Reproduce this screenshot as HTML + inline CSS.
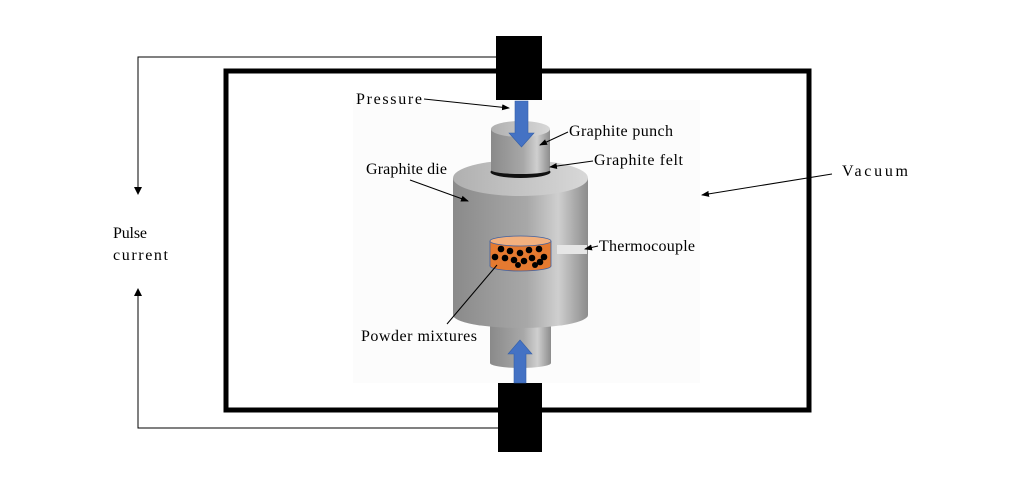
<!DOCTYPE html>
<html><head><style>
html,body{margin:0;padding:0;background:#fff;}
svg{display:block;}
text{font-family:"Liberation Serif",serif;font-size:16px;fill:#000;}
</style></head><body>
<svg width="1035" height="485" viewBox="0 0 1035 485" xmlns="http://www.w3.org/2000/svg">
<defs>
<linearGradient id="g" x1="0" x2="1" y1="0" y2="0">
<stop offset="0" stop-color="#8a8a8a"/>
<stop offset="0.55" stop-color="#a8a8a8"/>
<stop offset="0.78" stop-color="#cfcfcf"/>
<stop offset="1" stop-color="#8c8c8c"/>
</linearGradient>
<linearGradient id="gt" x1="0" x2="1" y1="0" y2="0">
<stop offset="0" stop-color="#b0b0b0"/>
<stop offset="1" stop-color="#d8d8d8"/>
</linearGradient>
<marker id="a" markerWidth="8" markerHeight="8" refX="7" refY="4" orient="auto" markerUnits="userSpaceOnUse">
<path d="M0,1 L8,4 L0,7 Z" fill="#000"/>
</marker>
</defs>
<rect x="353" y="100" width="347" height="283" fill="#fcfcfc"/>
<polyline points="496,57 138,57 138,193" fill="none" stroke="#000" stroke-width="1"/>
<path d="M134,187 L138,195 L142,187 Z" fill="#000"/>
<polyline points="498,428 138,428 138,290" fill="none" stroke="#000" stroke-width="1"/>
<path d="M134,296 L138,288 L142,296 Z" fill="#000"/>
<rect x="226" y="71" width="583" height="339" fill="none" stroke="#000" stroke-width="5"/>
<rect x="496" y="36" width="46" height="64" fill="#000"/>
<rect x="498" y="383" width="44" height="69" fill="#000"/>
<rect x="490" y="318" width="61" height="45" fill="url(#g)"/>
<ellipse cx="520.5" cy="363" rx="30.5" ry="5" fill="url(#g)"/>
<rect x="453" y="178" width="135" height="137" fill="url(#g)"/>
<ellipse cx="520.5" cy="315" rx="67.5" ry="13" fill="url(#g)"/>
<ellipse cx="520.5" cy="178" rx="67.5" ry="18" fill="url(#gt)"/>
<ellipse cx="520.5" cy="172" rx="30" ry="6" fill="#111"/>
<rect x="491" y="129" width="59" height="41" fill="url(#g)"/>
<ellipse cx="520.5" cy="170" rx="29.5" ry="4" fill="url(#g)"/>
<ellipse cx="520.5" cy="129" rx="29.5" ry="8" fill="url(#gt)"/>
<ellipse cx="520.5" cy="266" rx="30.5" ry="5" fill="#e57a30" stroke="#4060a0" stroke-width="0.8"/>
<rect x="490" y="241" width="61" height="25" fill="#e57a30"/>
<line x1="490" y1="241" x2="490" y2="266" stroke="#4060a0" stroke-width="0.8"/>
<line x1="551" y1="241" x2="551" y2="266" stroke="#4060a0" stroke-width="0.8"/>
<ellipse cx="520.5" cy="241" rx="30.5" ry="5" fill="#f2b07e" stroke="#4060a0" stroke-width="0.8"/>
<g fill="#000">
<circle cx="501" cy="249" r="3.3"/><circle cx="510" cy="251" r="3.3"/><circle cx="520" cy="253" r="3.3"/>
<circle cx="529" cy="250" r="3.3"/><circle cx="539" cy="249" r="3.3"/><circle cx="495" cy="257" r="3.3"/>
<circle cx="505" cy="258" r="3.3"/><circle cx="514" cy="260" r="3.3"/><circle cx="524" cy="261" r="3.3"/>
<circle cx="532" cy="258" r="3.3"/><circle cx="544" cy="257" r="3.3"/><circle cx="540" cy="262" r="3.3"/>
<circle cx="535" cy="265" r="3"/><circle cx="518" cy="265" r="3"/>
</g>
<rect x="557" y="245" width="30" height="9" fill="#e6e6e6"/>
<path d="M515,101 H528 V133 H534 L521.5,147 L509,133 H515 Z" fill="#4472c4" stroke="#3560a8" stroke-width="0.6"/>
<path d="M514,383 H526 V354 H532 L520,340 L508,354 H514 Z" fill="#4472c4" stroke="#3560a8" stroke-width="0.6"/>
<text x="356" y="104" textLength="66" lengthAdjust="spacing">Pressure</text>
<line x1="424" y1="99" x2="509" y2="108" stroke="#000" marker-end="url(#a)"/>
<text x="569" y="136" textLength="104" lengthAdjust="spacing">Graphite punch</text>
<line x1="568" y1="132" x2="540" y2="145" stroke="#000" marker-end="url(#a)"/>
<text x="594" y="165" textLength="89" lengthAdjust="spacing">Graphite felt</text>
<line x1="593" y1="161" x2="550" y2="167" stroke="#000" marker-end="url(#a)"/>
<text x="366" y="174" textLength="81" lengthAdjust="spacing">Graphite die</text>
<line x1="410" y1="180" x2="468" y2="201" stroke="#000" marker-end="url(#a)"/>
<text x="599" y="251" textLength="96" lengthAdjust="spacing">Thermocouple</text>
<line x1="598" y1="246" x2="585" y2="249" stroke="#000" marker-end="url(#a)"/>
<text x="361" y="341" textLength="116" lengthAdjust="spacing">Powder mixtures</text>
<line x1="447" y1="324" x2="497" y2="265" stroke="#000"/>
<text x="842" y="176" textLength="66" lengthAdjust="spacing">Vacuum</text>
<line x1="832" y1="174" x2="702" y2="195" stroke="#000" marker-end="url(#a)"/>
<text x="113" y="238" textLength="34" lengthAdjust="spacing">Pulse</text>
<text x="113" y="260" textLength="55" lengthAdjust="spacing">current</text>
</svg>
</body></html>
